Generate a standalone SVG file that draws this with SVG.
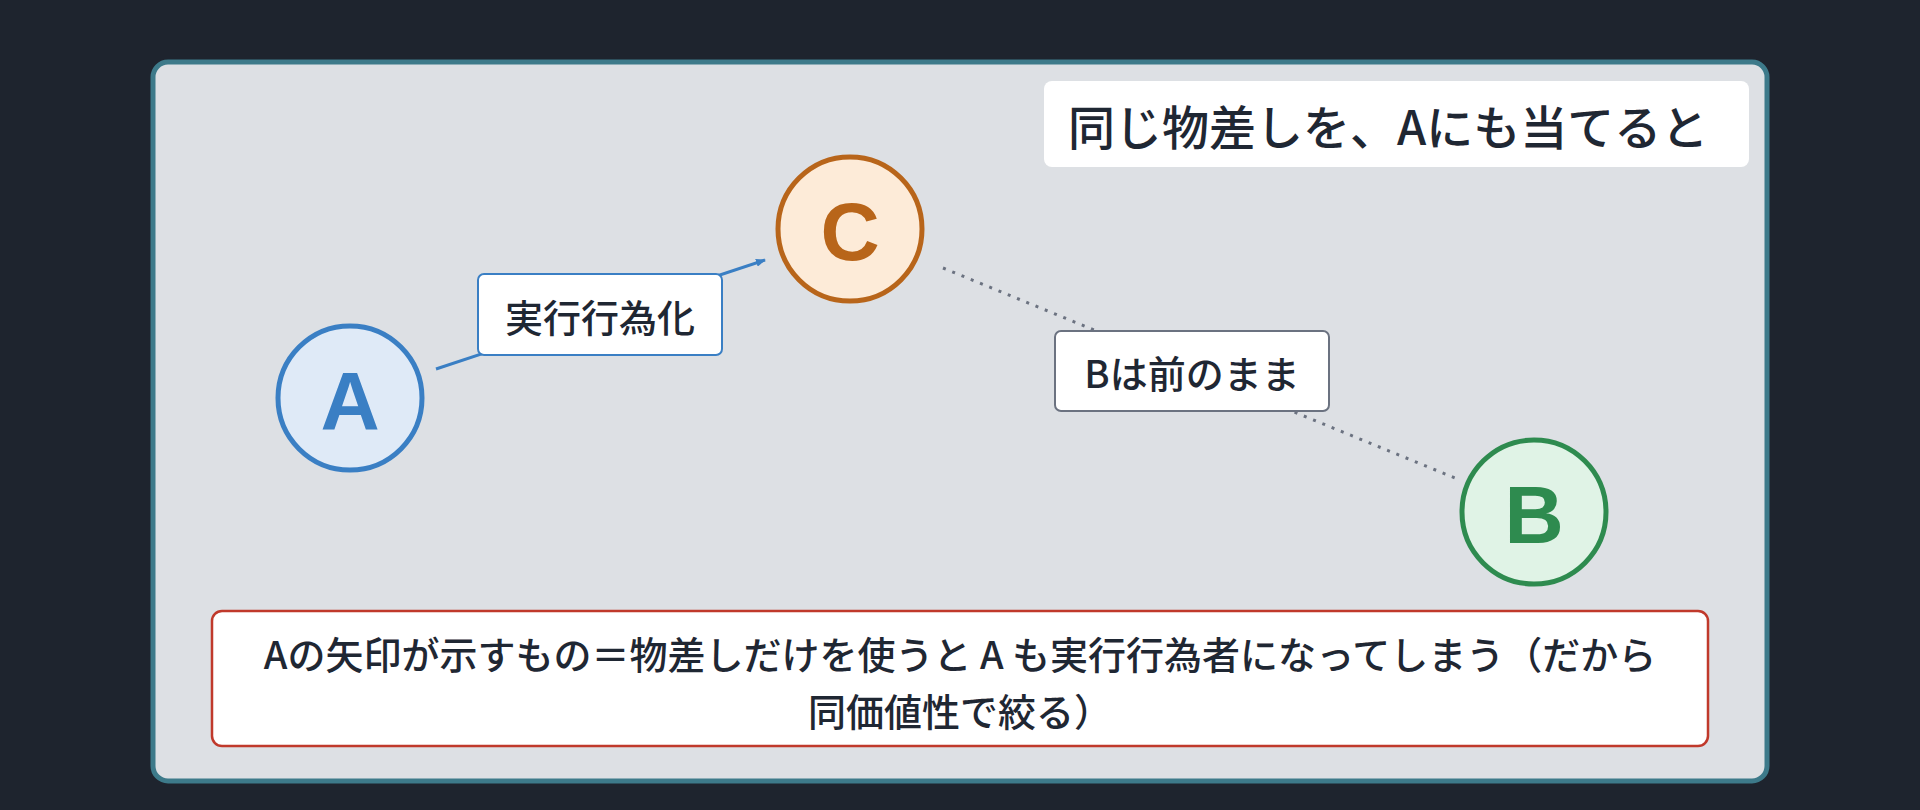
<svg xmlns="http://www.w3.org/2000/svg" width="1920" height="810" viewBox="0 0 1920 810">
<style>
text{font-family:"Noto Sans CJK JP","Noto Sans",sans-serif;fill:#1f2733;font-weight:500}
.lbl{font-size:38px;text-anchor:middle;dominant-baseline:central}
.big{font-family:"Liberation Sans","Noto Sans",sans-serif;font-size:82px;text-anchor:middle;dominant-baseline:central;font-weight:700}
</style>
<defs><marker id="ah" markerWidth="10" markerHeight="8" refX="9" refY="4" orient="auto" markerUnits="userSpaceOnUse"><path d="M0,0L10,4L0,8z" fill="#3a7fc4"/></marker></defs>
<rect width="1920" height="810" fill="#1e242e"/>
<rect x="153" y="62" width="1614" height="719" rx="15" fill="#dde0e4" stroke="#3d7a8a" stroke-width="5"/>
<g id="title"><rect x="1044" y="81" width="705" height="86" rx="8" fill="#fff"/><text x="1068" y="124" style="font-size:47px;dominant-baseline:central">同じ物差しを、Aにも当てると</text></g>
<g id="connectors">
<line x1="436" y1="369" x2="765" y2="260" stroke="#3a7fc4" stroke-width="3" marker-end="url(#ah)"/>
<line x1="943" y1="268" x2="1455" y2="478" stroke="#6b7280" stroke-width="3" stroke-dasharray="3 7"/>
</g>
<g id="label1"><rect x="478" y="274" width="244" height="81" rx="6" fill="#fff" stroke="#3a7fc4" stroke-width="2"/><text class="lbl" x="600" y="315">実行行為化</text></g>
<g id="label2"><rect x="1055" y="331" width="274" height="80" rx="6" fill="#fff" stroke="#6b7280" stroke-width="2"/><text class="lbl" x="1192" y="371">Bは前のまま</text></g>
<g id="A"><circle cx="350" cy="398" r="72" fill="#dfeaf7" stroke="#3a7fc4" stroke-width="5"/><text class="big" x="350" y="400" style="fill:#3a7fc4">A</text></g>
<g id="C"><circle cx="850" cy="229" r="72" fill="#fdebd8" stroke="#b8651a" stroke-width="5"/><text class="big" x="850" y="231" style="fill:#b8651a">C</text></g>
<g id="B"><circle cx="1534" cy="512" r="72" fill="#e0f3e6" stroke="#2e8b4f" stroke-width="5"/><text class="big" x="1534" y="514" style="fill:#2e8b4f">B</text></g>
<g id="note"><rect x="212" y="611" width="1496" height="135" rx="10" fill="#fff" stroke="#c0392b" stroke-width="2.5"/>
<text class="lbl" x="960" y="652">Aの矢印が示すもの＝物差しだけを使うと A も実行行為者になってしまう（だから</text>
<text class="lbl" x="960" y="709">同価値性で絞る）</text></g>
</svg>
